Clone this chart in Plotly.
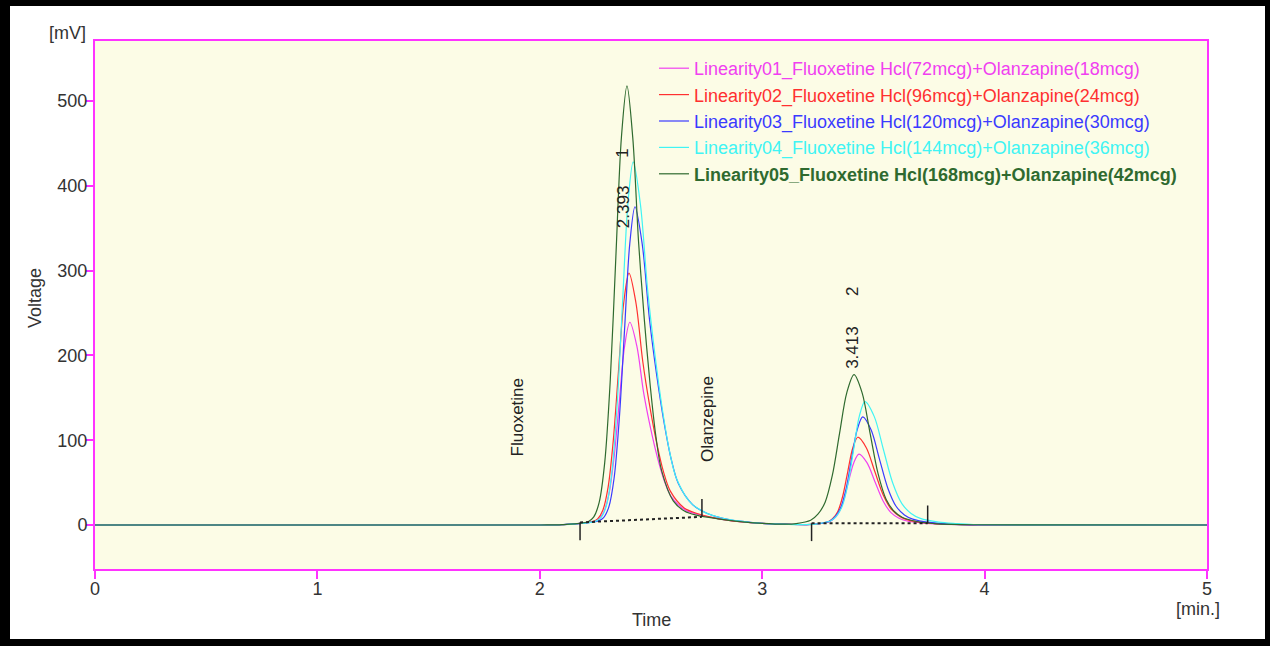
import plotly.graph_objects as go

FONT = "Liberation Sans, Arial, sans-serif"

# ---- chromatogram traces (time in min, signal in mV) ----
L01_time = [0.0, 2.0, 2.1, 2.2405, 2.264, 2.2875, 2.311, 2.3345, 2.358, 2.3815, 2.405,
            2.436, 2.467, 2.498, 2.529, 2.560, 2.591, 2.653, 2.715, 2.777, 2.85, 2.9, 3.0, 3.1, 3.2,
            3.247, 3.294, 3.318, 3.341, 3.365, 3.388, 3.412, 3.435, 3.471, 3.507, 3.543, 3.579, 3.615,
            3.651, 3.723, 3.795, 3.9, 4.0, 5.0]
L01_mv = [0, 0, 0.3, 4.0, 6.7, 15.0, 36.6, 81.0, 147.0, 211.3, 239.1,
          211.4, 155.8, 114.2, 79.5, 51.9, 33.5, 17.8, 12.4, 8.7, 5.5, 4.0, 2.0, 1.0, 0.5,
          1.2, 3.0, 6.3, 13.0, 27.9, 51.1, 73.5, 83.5, 73.5, 51.1, 28.7, 14.6, 8.0,
          4.7, 2.2, 1.0, 0.4, 0.2, 0]

L02_time = [0.0, 2.0, 2.1, 2.2365, 2.26, 2.2835, 2.307, 2.3305, 2.354, 2.3775, 2.401,
            2.432, 2.463, 2.494, 2.525, 2.556, 2.587, 2.649, 2.711, 2.773, 2.85, 2.9, 3.0, 3.1, 3.2,
            3.25, 3.295, 3.3175, 3.34, 3.3625, 3.385, 3.4075, 3.43, 3.468, 3.506, 3.544, 3.582, 3.62,
            3.658, 3.734, 3.81, 3.9, 4.0, 5.0]
L02_mv = [0, 0, 0.3, 4.0, 7.2, 17.4, 44.4, 99.9, 182.1, 262.5, 297.0,
          262.4, 192.8, 140.8, 97.5, 62.9, 39.9, 20.1, 13.3, 9.0, 5.5, 4.0, 2.0, 1.0, 0.5,
          1.3, 3.6, 7.7, 16.0, 34.5, 63.3, 91.1, 103.5, 91.1, 63.3, 35.5, 18.0, 9.8,
          5.7, 2.6, 1.2, 0.4, 0.2, 0]

L03_time = [0.0, 2.0, 2.1, 2.2635, 2.287, 2.3105, 2.334, 2.3575, 2.381, 2.4045, 2.428,
            2.4605, 2.493, 2.5255, 2.558, 2.5905, 2.623, 2.688, 2.753, 2.818, 2.9, 3.0, 3.1, 3.2,
            3.252, 3.302, 3.327, 3.352, 3.377, 3.402, 3.427, 3.452, 3.4895, 3.527, 3.5645, 3.602, 3.6395,
            3.677, 3.752, 3.827, 3.9, 4.0, 5.0]
L03_mv = [0, 0, 0.3, 4.8, 8.8, 21.3, 55.1, 125.5, 229.8, 331.5, 375.3,
          331.3, 243.1, 177.0, 122.0, 78.0, 48.8, 23.7, 13.6, 8.3, 4.5, 2.0, 1.0, 0.5,
          1.5, 4.3, 9.4, 19.6, 42.4, 78.0, 112.3, 127.5, 112.3, 78.0, 43.7, 22.1, 11.9,
          6.9, 3.0, 1.4, 0.5, 0.2, 0]

L04_time = [0.0, 2.0, 2.1, 2.252, 2.276, 2.300, 2.324, 2.348, 2.372, 2.396, 2.420,
            2.4525, 2.485, 2.5175, 2.55, 2.5825, 2.615, 2.68, 2.745, 2.81, 2.9, 3.0, 3.1, 3.2,
            3.258, 3.309, 3.3345, 3.36, 3.3855, 3.411, 3.4365, 3.462, 3.5035, 3.545, 3.5865, 3.628, 3.6695,
            3.711, 3.794, 3.877, 3.95, 4.0, 5.0]
L04_mv = [0, 0, 0.3, 4.6, 9.0, 23.6, 62.3, 142.7, 261.9, 378.2, 428.2,
          377.9, 277.0, 201.3, 138.3, 88.0, 54.6, 25.7, 14.6, 8.8, 4.5, 2.0, 1.0, 0.5,
          1.7, 4.9, 10.7, 22.3, 48.4, 89.0, 128.1, 145.5, 128.1, 89.0, 49.8, 25.2, 13.6,
          7.8, 3.4, 1.7, 0.6, 0.3, 0]

L05_time = [0.0, 2.0, 2.1, 2.217, 2.242, 2.267, 2.292, 2.317, 2.342, 2.367, 2.392,
            2.418, 2.444, 2.47, 2.496, 2.522, 2.548, 2.6, 2.652, 2.704, 2.8, 2.9, 3.0, 3.1,
            3.153, 3.218, 3.2505, 3.283, 3.3155, 3.348, 3.3805, 3.413, 3.449, 3.485, 3.521, 3.557, 3.593,
            3.629, 3.701, 3.773, 3.85, 3.95, 5.0]
L05_mv = [0, 0, 0.5, 3.9, 9.2, 26.7, 73.9, 171.6, 316.2, 457.3, 517.9,
          456.8, 334.1, 242.2, 165.7, 104.5, 63.8, 28.5, 16.2, 11.6, 7.3, 4.0, 2.0, 1.0,
          1.7, 5.6, 12.7, 26.9, 58.7, 108.3, 156.1, 177.3, 156.1, 108.3, 60.5, 30.4, 16.2,
          9.2, 3.8, 1.7, 0.8, 0.3, 0]

series_names = [
    "Linearity01_Fluoxetine Hcl(72mcg)+Olanzapine(18mcg)",
    "Linearity02_Fluoxetine Hcl(96mcg)+Olanzapine(24mcg)",
    "Linearity03_Fluoxetine Hcl(120mcg)+Olanzapine(30mcg)",
    "Linearity04_Fluoxetine Hcl(144mcg)+Olanzapine(36mcg)",
    "Linearity05_Fluoxetine Hcl(168mcg)+Olanzapine(42mcg)",
]
series_colors = ["#f040f0", "#ff3030", "#3a3aff", "#40f4f4", "#2f6a2f"]
series_bold = [False, False, False, False, True]
series_time = [L01_time, L02_time, L03_time, L04_time, L05_time]
series_mv = [L01_mv, L02_mv, L03_mv, L04_mv, L05_mv]

# peak results (retention time label, peak number, label positions)
peak_rt_labels = ["2.393", "3.413"]
peak_numbers = ["1", "2"]
peak_label_time = [2.374, 3.408]
peak_label_mv = [376, 210]
peak_number_mv = [439, 276]

# expected component names
component_names = ["Fluoxetine", "Olanzepine"]
component_time = [1.898, 2.752]
component_mv = [127, 125]

# integration baselines: (start time, start mV, end time, end mV)
baseline_start_t = [2.181, 3.222]
baseline_start_mv = [3.0, 2.0]
baseline_end_t = [2.729, 3.744]
baseline_end_mv = [9.6, 2.0]
marker_len_mv = 21

x_ticks = [0, 1, 2, 3, 4, 5]
y_ticks = [0, 100, 200, 300, 400, 500]

fig = go.Figure()

for name, col, bold, t, v in zip(series_names, series_colors, series_bold, series_time, series_mv):
    label = f"<b>{name}</b>" if bold else name
    fig.add_trace(go.Scatter(
        x=t, y=v, mode="lines", name=f"<span style='color:{col}'>{label}</span>",
        line=dict(color=col, width=1.2, shape="spline", smoothing=0.9),
    ))

# integration baselines (dotted) and start/end markers
for ts, ys, te, ye in zip(baseline_start_t, baseline_start_mv, baseline_end_t, baseline_end_mv):
    fig.add_trace(go.Scatter(x=[ts, te], y=[ys, ye], mode="lines", showlegend=False, hoverinfo="skip",
                             line=dict(color="#222222", width=2, dash="dot")))
    fig.add_trace(go.Scatter(x=[ts, ts], y=[ys, ys - marker_len_mv], mode="lines", showlegend=False,
                             hoverinfo="skip", line=dict(color="#222222", width=1.5)))
    fig.add_trace(go.Scatter(x=[te, te], y=[ye, ye + marker_len_mv], mode="lines", showlegend=False,
                             hoverinfo="skip", line=dict(color="#222222", width=1.5)))

annotations = []
for lab, num, t, ym, yn in zip(peak_rt_labels, peak_numbers, peak_label_time, peak_label_mv, peak_number_mv):
    annotations.append(dict(x=t, y=ym, xref="x", yref="y", text=lab, textangle=-90, showarrow=False,
                            xanchor="center", yanchor="middle",
                            font=dict(family=FONT, size=17, color="#222222")))
    annotations.append(dict(x=t, y=yn, xref="x", yref="y", text=num, textangle=-90, showarrow=False,
                            xanchor="center", yanchor="middle",
                            font=dict(family=FONT, size=17, color="#222222")))
for nm, t, y in zip(component_names, component_time, component_mv):
    annotations.append(dict(x=t, y=y, xref="x", yref="y", text=nm, textangle=-90, showarrow=False,
                            xanchor="center", yanchor="middle",
                            font=dict(family=FONT, size=17, color="#222222")))

W, H = 1270, 646
ML, MR, MT, MB = 95, 63, 41, 77
PW, PH = W - ML - MR, H - MT - MB


def px_x(p):
    return (p - ML) / PW


def px_y(p):
    return (H - MB - p) / PH


for txt, x, y, ang in [("[mV]", 67, 33, 0), ("[min.]", 1198, 609, 0), ("Time", 651, 620, 0),
                       ("Voltage", 35, 298, -90)]:
    annotations.append(dict(x=px_x(x), y=px_y(y), xref="paper", yref="paper", text=txt, textangle=ang,
                            showarrow=False, xanchor="center", yanchor="middle",
                            font=dict(family=FONT, size=18, color="#333333")))

# outer black frame of the picture
frame = []
for x0, y0, x1, y1 in [(0, 0, 10, H), (0, 0, W, 6), (W - 5, 0, W, H), (0, H - 7, W, H)]:
    frame.append(dict(type="rect", xref="paper", yref="paper", x0=px_x(x0), x1=px_x(x1),
                      y0=px_y(y1), y1=px_y(y0), fillcolor="black", line=dict(width=0), layer="above"))

MAG = "#ff33ff"
fig.update_layout(
    width=W, height=H,
    margin=dict(l=ML, r=MR, t=MT, b=MB),
    paper_bgcolor="white",
    plot_bgcolor="#fcfce6",
    font=dict(family=FONT, size=18, color="#333333"),
    showlegend=True,
    legend=dict(x=px_x(654), y=px_y(50), xanchor="left", yanchor="top", bgcolor="rgba(0,0,0,0)",
                font=dict(family=FONT, size=18), itemwidth=30, tracegroupgap=0),
    annotations=annotations,
    shapes=frame,
    xaxis=dict(range=[0, 5], tickvals=x_ticks, showgrid=False, zeroline=False, showline=True, linecolor=MAG,
               linewidth=2, mirror=True, ticks="outside", ticklen=8, tickcolor=MAG, tickwidth=1.5,
               ticklabelstandoff=-6, tickfont=dict(family=FONT, size=18, color="#333333")),
    yaxis=dict(range=[-51.9, 570.8], tickvals=y_ticks, showgrid=False, zeroline=False, showline=True,
               linecolor=MAG, linewidth=2, mirror=True, ticks="outside", ticklen=7, tickcolor=MAG,
               tickwidth=1.5, ticklabelstandoff=-5, tickfont=dict(family=FONT, size=18, color="#333333")),
)

fig.write_html("out.html", config={"displayModeBar": False},
               post_script="document.body.style.margin='0';document.body.style.overflow='hidden';")
